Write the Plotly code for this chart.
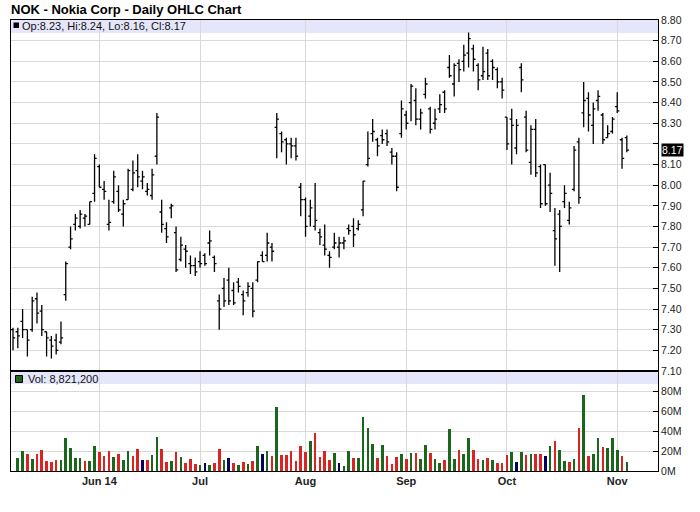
import pandas as pd
import plotly.graph_objects as go

# ---------------- data ----------------
holidays = ["2014-05-26", "2014-07-04", "2014-09-01"]
dates = [d for d in pd.bdate_range("2014-05-06", "2014-11-05")
         if d.strftime("%Y-%m-%d") not in holidays]

opens = [7.30, 7.29, 7.34, 7.30, 7.30, 7.45, 7.39, 7.29, 7.25, 7.25,
         7.24, 7.47, 7.70, 7.81, 7.80, 7.84, 7.81, 7.96, 8.09, 7.98,
         7.81, 7.92, 7.97, 7.86, 7.93, 7.98, 8.07, 8.02, 7.97, 7.95,
         8.14, 7.87, 7.79, 7.89, 7.77, 7.64, 7.69, 7.62, 7.61, 7.63,
         7.66, 7.72, 7.65, 7.44, 7.50, 7.54, 7.49, 7.53, 7.47, 7.48,
         7.50, 7.54, 7.66, 7.66, 7.70, 8.28, 8.25, 8.22, 8.20, 8.19,
         7.99, 7.93, 7.85, 7.80, 7.77, 7.71, 7.66, 7.70, 7.70, 7.72,
         7.79, 7.80, 7.79, 7.88, 8.10, 8.25, 8.22, 8.24, 8.25, 8.16,
         8.14, 8.25, 8.34, 8.40, 8.41, 8.32, 8.44, 8.37, 8.30, 8.37,
         8.45, 8.57, 8.49, 8.59, 8.60, 8.64, 8.66, 8.58, 8.53, 8.64,
         8.60, 8.56, 8.50, 8.33, 8.32, 8.18, 8.57, 8.33, 8.11, 8.27,
         8.09, 8.10, 8.00, 7.78, 7.86, 7.92, 7.83, 7.98, 8.21, 8.35,
         8.42, 8.29, 8.41, 8.34, 8.23, 8.26, 8.38, 8.22, 8.23]
highs = [7.31, 7.31, 7.40, 7.30, 7.46, 7.48, 7.42, 7.29, 7.27, 7.28,
         7.34, 7.63, 7.80, 7.86, 7.88, 7.86, 7.92, 8.15, 8.10, 8.02,
         7.93, 8.07, 8.00, 7.93, 8.08, 8.12, 8.15, 8.07, 8.01, 8.08,
         8.35, 7.93, 7.82, 7.91, 7.80, 7.75, 7.71, 7.66, 7.65, 7.68,
         7.67, 7.78, 7.66, 7.47, 7.55, 7.60, 7.53, 7.55, 7.49, 7.53,
         7.53, 7.63, 7.68, 7.77, 7.72, 8.35, 8.26, 8.23, 8.23, 8.23,
         8.01, 7.94, 7.93, 8.01, 7.79, 7.81, 7.68, 7.77, 7.75, 7.75,
         7.81, 7.84, 7.83, 8.02, 8.26, 8.32, 8.23, 8.27, 8.27, 8.18,
         8.16, 8.41, 8.36, 8.49, 8.47, 8.37, 8.52, 8.38, 8.37, 8.44,
         8.46, 8.63, 8.59, 8.61, 8.68, 8.74, 8.68, 8.59, 8.67, 8.66,
         8.61, 8.57, 8.52, 8.33, 8.37, 8.32, 8.59, 8.36, 8.29, 8.32,
         8.10, 8.10, 8.06, 7.89, 7.88, 8.00, 7.92, 8.19, 8.23, 8.50,
         8.45, 8.40, 8.46, 8.35, 8.29, 8.33, 8.45, 8.23, 8.24]
lows = [7.20, 7.21, 7.26, 7.17, 7.29, 7.33, 7.27, 7.17, 7.16, 7.18,
        7.23, 7.44, 7.69, 7.78, 7.79, 7.80, 7.81, 7.92, 7.99, 7.93,
        7.78, 7.91, 7.87, 7.80, 7.93, 7.97, 7.99, 7.98, 7.95, 7.93,
        8.10, 7.77, 7.72, 7.84, 7.58, 7.63, 7.60, 7.57, 7.56, 7.60,
        7.61, 7.66, 7.58, 7.30, 7.41, 7.42, 7.42, 7.48, 7.37, 7.46,
        7.36, 7.53, 7.63, 7.63, 7.63, 8.13, 8.16, 8.10, 8.13, 8.12,
        7.85, 7.75, 7.80, 7.78, 7.71, 7.66, 7.60, 7.69, 7.65, 7.69,
        7.76, 7.70, 7.78, 7.85, 8.09, 8.21, 8.14, 8.20, 8.19, 8.10,
        7.97, 8.23, 8.27, 8.31, 8.29, 8.27, 8.42, 8.25, 8.27, 8.35,
        8.35, 8.52, 8.43, 8.50, 8.55, 8.57, 8.55, 8.46, 8.51, 8.51,
        8.51, 8.47, 8.42, 8.17, 8.10, 8.15, 8.45, 8.16, 8.05, 8.04,
        7.89, 7.90, 7.87, 7.61, 7.58, 7.89, 7.81, 7.97, 7.91, 8.28,
        8.26, 8.20, 8.36, 8.20, 8.23, 8.25, 8.35, 8.08, 8.16]
closes = [7.26, 7.27, 7.30, 7.25, 7.44, 7.38, 7.30, 7.26, 7.22, 7.20,
          7.26, 7.62, 7.74, 7.84, 7.86, 7.85, 7.92, 8.13, 7.99, 7.97,
          7.82, 8.04, 7.88, 7.91, 8.07, 8.06, 8.04, 8.04, 7.98, 8.05,
          8.33, 7.81, 7.75, 7.90, 7.59, 7.71, 7.68, 7.61, 7.58, 7.62,
          7.62, 7.73, 7.62, 7.40, 7.44, 7.44, 7.43, 7.51, 7.44, 7.51,
          7.39, 7.63, 7.63, 7.72, 7.68, 8.32, 8.21, 8.20, 8.19, 8.14,
          7.93, 7.80, 7.89, 7.83, 7.75, 7.69, 7.65, 7.72, 7.72, 7.73,
          7.78, 7.76, 7.81, 8.02, 8.13, 8.26, 8.19, 8.22, 8.21, 8.14,
          7.99, 8.37, 8.30, 8.48, 8.32, 8.35, 8.49, 8.27, 8.32, 8.39,
          8.37, 8.53, 8.58, 8.56, 8.63, 8.71, 8.61, 8.51, 8.55, 8.53,
          8.57, 8.50, 8.46, 8.20, 8.29, 8.29, 8.51, 8.17, 8.27, 8.06,
          7.91, 7.91, 7.96, 7.74, 7.80, 7.96, 7.89, 8.17, 7.94, 8.41,
          8.34, 8.37, 8.43, 8.22, 8.25, 8.32, 8.36, 8.13, 8.17]
volumes_m = [None, 12.8, 20.2, 17.2, 12.1, 17.2, 21.2, 10.1, 9.1, 11.1,
             11.1, 33.3, 23.2, 13.1, 13.1, 10.1, 10.1, 25.3, 19.2, 15.2,
             20.2, 14.1, 17.2, 11.1, 20.2, 15.2, 22.2, 11.1, 11.1, 16.2,
             34.3, 22.2, 9.1, 10.1, 19.2, 14.1, 8.1, 12.1, 7.1, 6.1,
             8.1, 6.1, 8.1, 22.2, 11.1, 13.1, 8.1, 6.1, 9.1, 7.1,
             10.1, 25.3, 17.2, 20.2, 15.2, 64.6, 16.2, 16.2, 20.2, 10.1,
             25.3, 19.2, 30.3, 38.4, 14.1, 20.2, 11.1, 18.2, 8.1, 5.1,
             20.2, 13.1, 13.1, 54.5, 43.4, 27.3, 13.1, 26.3, 15.2, 7.1,
             14.1, 17.2, 12.1, 18.2, 18.2, 12.1, 26.3, 18.2, 12.1, 8.1,
             11.1, 42.4, 12.1, 21.2, 17.2, 33.3, 21.2, 12.1, 11.1, 13.1,
             11.1, 8.1, 8.1, 16.2, 19.2, 9.1, 19.2, 16.2, 17.2, 17.2,
             17.2, 15.2, 25.3, 30.3, 21.2, 10.1, 9.1, 12.1, 43.4, 76.8,
             15.2, 17.2, 33.3, 24.2, 23.2, 33.3, 21.2, 15.2, 8.8212]

month_labels = ["Jun 14", "Jul", "Aug", "Sep", "Oct", "Nov"]
price_ticks = [round(7.10 + 0.10 * k, 2) for k in range(18)]
vol_ticks = [0, 20, 40, 60, 80]

# ---------------- derived ----------------
n = len(dates)
x = list(range(n))
month_pos = [i for i in range(1, n) if dates[i].month != dates[i - 1].month]

GREEN, RED, NAVY = "#1a661a", "#dd2222", "#000066"
vol_colors = [GREEN]
for i in range(1, n):
    d = round(closes[i] - closes[i - 1], 4)
    vol_colors.append(GREEN if d > 0 else (RED if d < 0 else NAVY))

last_close = closes[-1]
price_ticktext = ["" if abs(t - last_close) < 0.05 else f"{t:.2f}" for t in price_ticks]

# geometry (window pixels)
W, H = 700, 512
L, R, T, B = 11, 658, 20, 471
pw, ph = R - L, B - T
split = (B - 371) / ph                   # volume / price boundary
PMIN, PMAX = 7.10, 8.80
VMAX = 100.8
XMIN, XMAX = -0.42, 134.5


def px(xp):
    return (xp - L) / pw


def py(yp):
    return (B - yp) / ph


FONT = "Liberation Sans, Arial, sans-serif"
GRID = "#d9d9d9"

fig = go.Figure()
fig.add_trace(go.Ohlc(
    x=x, open=opens, high=highs, low=lows, close=closes,
    increasing=dict(line=dict(color="black", width=1.3)),
    decreasing=dict(line=dict(color="black", width=1.3)),
    tickwidth=0.45, hoverinfo="skip", showlegend=False,
    xaxis="x", yaxis="y"))
fig.add_trace(go.Bar(
    x=x, y=volumes_m, marker=dict(color=vol_colors, line=dict(width=0)),
    width=0.55, hoverinfo="skip", showlegend=False,
    xaxis="x2", yaxis="y2"))

axis_common = dict(range=[XMIN, XMAX], tickvals=month_pos, showgrid=True,
                   gridcolor=GRID, gridwidth=1, zeroline=False, showline=True,
                   linecolor="black", linewidth=1, mirror=True, ticks="")

fig.update_layout(
    width=W, height=H,
    margin=dict(l=L, r=W - R, t=T, b=H - B, pad=0, autoexpand=False),
    paper_bgcolor="white", plot_bgcolor="white",
    font=dict(family=FONT, size=11, color="#222"),
    showlegend=False, bargap=0,
    xaxis=dict(**axis_common, domain=[0, 1], anchor="y", showticklabels=False,
               rangeslider=dict(visible=False)),
    xaxis2=dict(**axis_common, domain=[0, 1], anchor="y2",
                ticktext=month_labels, showticklabels=True,
                tickfont=dict(family=FONT, size=11, color="#222", weight="bold")),
    yaxis=dict(domain=[split, 1], range=[PMIN, PMAX], side="right",
               tickvals=price_ticks, ticktext=price_ticktext,
               ticks="inside", ticklen=5, tickcolor="black",
               showgrid=True, gridcolor=GRID, zeroline=False,
               showline=True, linecolor="black", mirror=True,
               tickfont=dict(family=FONT, size=10.5, color="#222")),
    yaxis2=dict(domain=[0, split], range=[0, VMAX], side="right",
                tickvals=vol_ticks, ticktext=[f"{v}M" for v in vol_ticks],
                ticks="inside", ticklen=5, tickcolor="black",
                showgrid=True, gridcolor=GRID, zeroline=False,
                showline=True, linecolor="black", mirror=True,
                tickfont=dict(family=FONT, size=10.5, color="#222")),
)

shapes = [
    dict(type="rect", xref="paper", yref="paper", x0=0, x1=1,
         y0=py(33), y1=1, fillcolor="#e6e6fa", line=dict(width=0), layer="below"),
    dict(type="rect", xref="paper", yref="paper", x0=0, x1=1,
         y0=py(384), y1=split, fillcolor="#e6e6fa", line=dict(width=0), layer="below"),
    dict(type="line", xref="paper", yref="paper", x0=0, x1=1,
         y0=split, y1=split, line=dict(color="black", width=2)),
    dict(type="rect", xref="paper", yref="paper", x0=px(13.5), x1=px(19),
         y0=py(28), y1=py(22.5), fillcolor="black", line=dict(width=0)),
    dict(type="rect", xref="paper", yref="paper", x0=px(15.5), x1=px(22.5),
         y0=py(382.5), y1=py(375.5), fillcolor=GREEN, line=dict(color="black", width=1)),
]
fig.update_layout(shapes=shapes)

legend_price = (f"Op:{opens[-1]:.2f}, Hi:{highs[-1]:.2f}, "
                f"Lo:{lows[-1]:.2f}, Cl:{closes[-1]:.2f}")
legend_vol = f"Vol: {round(volumes_m[-1] * 1e6):,}"

annotations = [
    dict(text="NOK - Nokia Corp - Daily OHLC Chart", xref="paper", yref="paper",
         x=px(9), y=py(9.5), xanchor="left", yanchor="middle", showarrow=False,
         font=dict(family=FONT, size=13, color="black", weight="bold")),
    dict(text=legend_price, xref="paper", yref="paper", x=px(19.5), y=py(26.5),
         xanchor="left", yanchor="middle", showarrow=False,
         font=dict(family=FONT, size=11, color="#111")),
    dict(text=legend_vol, xref="paper", yref="paper", x=px(26), y=py(378.5),
         xanchor="left", yanchor="middle", showarrow=False,
         font=dict(family=FONT, size=11, color="#111")),
    dict(text=f"{last_close:.2f}", xref="paper", yref="y", x=1, y=last_close,
         xanchor="left", yanchor="middle", xshift=3, showarrow=False,
         bgcolor="black", borderpad=0,
         font=dict(family=FONT, size=10.5, color="white")),
]
fig.update_layout(annotations=annotations)

# remove the browser's default 8px body margin so the figure sits at (0, 0);
# hide the interactive mode bar (static chart)
fig.write_html("out.html",
               config={"displayModeBar": False, "staticPlot": True},
               post_script="document.body.style.margin='0';")
